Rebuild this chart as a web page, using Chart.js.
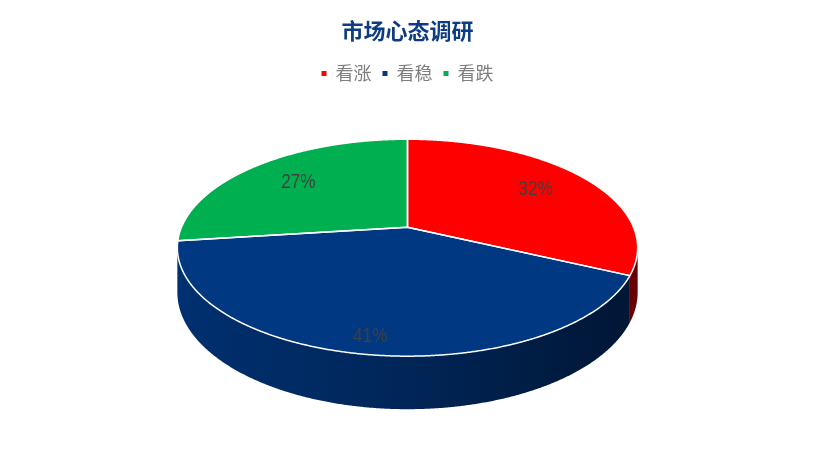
<!DOCTYPE html>
<html>
<head>
<meta charset="utf-8">
<script src="https://cdn.jsdelivr.net/npm/chart.js@4.4.1/dist/chart.umd.min.js"></script>
<style>
    html, body { margin: 0; padding: 0; background: #fff; }
    #wrap { width: 815px; height: 461px; }
</style>
</head>
<body>
<div id="wrap"><canvas id="pieChart" width="815" height="461"></canvas></div>
<script>
const chartTitle = "市场心态调研";
const categories = ["看涨", "看稳", "看跌"];
const shares = [32, 41, 27];
const sliceColors = ["#ff0000", "#003882", "#00b050"];

// 3D look, everything relative to the arc radius Chart.js computes
const tilt = { sx: 2.26, sy: 1.046, persp: 0.189, depth: 0.43 };

function hexToRgb(hex) {
    const n = parseInt(hex.slice(1), 16);
    return [(n >> 16) & 255, (n >> 8) & 255, n & 255];
}

function shade(hex, f) {
    const [r, g, b] = hexToRgb(hex);
    return `rgb(${Math.round(r * f)},${Math.round(g * f)},${Math.round(b * f)})`;
}

// Draw the pie as a tilted disc, using the arcs Chart.js laid out
const pie3d = {
    id: "pie3d",
    beforeDatasetsDraw(chart, args, opts) {
        const arcs = chart.getDatasetMeta(0).data;
        if (!arcs.length) return false;
        const ctx = chart.ctx;
        const cx = arcs[0].x, cy = arcs[0].y, R = arcs[0].outerRadius;
        const A = R * tilt.sx, B = R * tilt.sy, K = tilt.persp, D = R * tilt.depth;

        const proj = (ang, r, drop) => {
            const u = Math.cos(ang) * r, v = Math.sin(ang) * r;
            const w = 1 - K * v;
            return [cx + (A * u) / w, cy + (B * v) / w + (drop ? D / w : 0)];
        };
        const step = 0.005;

        // side walls, only the front part facing the viewer
        const lo = Math.asin(K), hi = Math.PI - Math.asin(K);
        const xL = cx - A * 1.02, xR = cx + A * 1.02;
        arcs.forEach((arc, i) => {
            const a = Math.max(arc.startAngle, lo);
            const b = Math.min(arc.endAngle, hi);
            if (b <= a) return;
            const base = sliceColors[i];
            const grad = ctx.createLinearGradient(xL, 0, xR, 0);
            grad.addColorStop(0, shade(base, 0.86));
            grad.addColorStop(0.45, shade(base, 0.7));
            grad.addColorStop(1, shade(base, 0.4));
            ctx.save();
            ctx.beginPath();
            for (let t = a; t < b; t += step) ctx.lineTo(...proj(t, 1, false));
            ctx.lineTo(...proj(b, 1, false));
            for (let t = b; t > a; t -= step) ctx.lineTo(...proj(t, 1, true));
            ctx.lineTo(...proj(a, 1, true));
            ctx.closePath();
            ctx.fillStyle = grad;
            ctx.fill();
            ctx.restore();
        });

        // top face
        const facePath = (arc) => {
            ctx.beginPath();
            ctx.moveTo(cx, cy);
            for (let t = arc.startAngle; t < arc.endAngle; t += step) ctx.lineTo(...proj(t, 1, false));
            ctx.lineTo(...proj(arc.endAngle, 1, false));
            ctx.closePath();
        };
        ctx.save();
        arcs.forEach((arc, i) => {
            facePath(arc);
            ctx.fillStyle = sliceColors[i];
            ctx.fill();
        });
        ctx.strokeStyle = "#ffffff";
        ctx.lineWidth = 1.5;
        ctx.lineJoin = "round";
        arcs.forEach((arc) => {
            facePath(arc);
            ctx.stroke();
        });
        ctx.restore();

        // percentage labels (a bit condensed, like the original)
        const total = shares.reduce((s, v) => s + v, 0);
        arcs.forEach((arc, i) => {
            const mid = (arc.startAngle + arc.endAngle) / 2;
            const [x, y] = proj(mid, opts.labelRadius[i], false);
            ctx.save();
            ctx.translate(x, y);
            ctx.scale(0.82, 1);
            ctx.font = '21px "Liberation Sans", Arial, sans-serif';
            ctx.fillStyle = "#404040";
            ctx.textAlign = "center";
            ctx.textBaseline = "middle";
            ctx.fillText(Math.round((shares[i] / total) * 100) + "%", 0, 0);
            ctx.restore();
        });

        return false;
    },
};

document.addEventListener("DOMContentLoaded", function () {
    const ctx = document.getElementById("pieChart");
    new Chart(ctx, {
        type: "pie",
        data: {
            labels: categories,
            datasets: [
                {
                    data: shares,
                    backgroundColor: sliceColors,
                    borderColor: "#fff",
                    borderWidth: 0,
                    radius: 100,
                },
            ],
        },
        options: {
            responsive: false,
            animation: false,
            events: [],
            layout: {
                padding: { top: 0, bottom: 99, left: 0, right: 0 },
            },
            plugins: {
                title: {
                    display: true,
                    text: chartTitle,
                    color: "#0e3c82",
                    font: { family: '"Noto Sans CJK SC", sans-serif', size: 22, weight: "bold" },
                    padding: { top: 17, bottom: 10 },
                },
                legend: {
                    position: "top",
                    labels: {
                        usePointStyle: true,
                        pointStyle: "rect",
                        boxWidth: 5,
                        boxHeight: 5,
                        padding: 11,
                        color: "#7f7f7f",
                        font: { family: '"Noto Sans CJK SC", sans-serif', size: 18 },
                    },
                },
                tooltip: { enabled: false },
                pie3d: {
                    labelRadius: [0.72, 0.88, 0.7],
                },
            },
        },
        plugins: [pie3d],
    });
});
</script>
</body>
</html>
